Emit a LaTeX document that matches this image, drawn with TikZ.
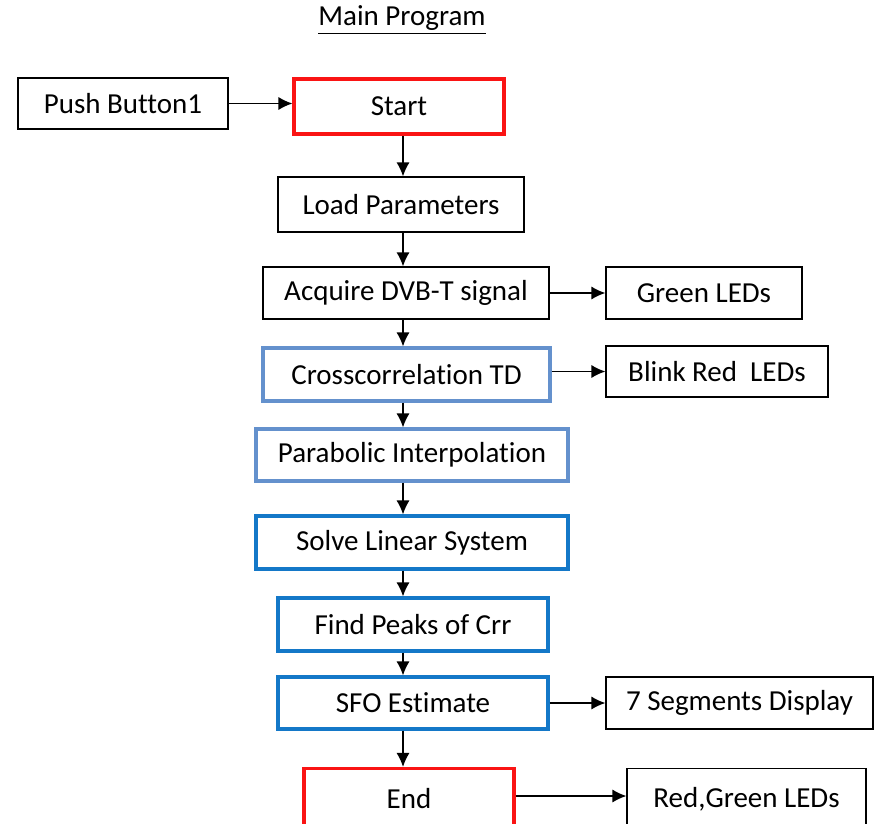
\documentclass[tikz,border=0pt]{standalone}
\usepackage{fontspec}
\setmainfont{Carlito}[Ligatures=NoCommon]
\usepackage{tikz}
\usetikzlibrary{arrows, arrows.meta, positioning}
\definecolor{startred}{RGB}{250,20,20}
\definecolor{paleblue}{RGB}{100,145,205}
\definecolor{deepblue}{RGB}{20,120,200}
\tikzstyle{plain} = [rectangle, draw=black, line width=0.7pt, font=\fontsize{16.5}{19}\selectfont]
\tikzstyle{terminal} = [rectangle, draw=startred, line width=1.8pt, font=\fontsize{16.5}{19}\selectfont]
\tikzstyle{softstep} = [rectangle, draw=paleblue, line width=1.8pt, font=\fontsize{16.5}{19}\selectfont]
\tikzstyle{hardstep} = [rectangle, draw=deepblue, line width=1.8pt, font=\fontsize{16.5}{19}\selectfont]
\tikzstyle{arrow} = [line width=0.8pt, -{Latex[length=8pt, width=7.5pt]}]

\begin{document}
\begin{tikzpicture}[x=0.02cm, y=0.02cm]
\clip (0, 0) rectangle (875, -824);
\useasboundingbox (0, 0) rectangle (875, -824);

\node (title) at (402, -20) {\fontsize{16.5}{19}\selectfont\underline{Main Program}};

% main column
\node (start) [terminal, minimum width = 4.2cm, minimum height = 1.1cm] at (399, -106.5) {Start};
\node (load) [plain, minimum width = 4.92cm, minimum height = 1.1cm] at (401, -204.5) {Load Parameters};
\node (acquire) [plain, minimum width = 5.72cm, minimum height = 1.04cm] at (406, -293) {Acquire DVB-T signal};
\node (cross) [softstep, minimum width = 5.74cm, minimum height = 1.06cm] at (406.5, -374.5) {Crosscorrelation TD};
\node (parab) [softstep, minimum width = 6.24cm, minimum height = 1.04cm] at (412, -455) {Parabolic Interpolation};
\node (solve) [hardstep, minimum width = 6.24cm, minimum height = 1.06cm] at (412, -542.5) {Solve Linear System};
\node (peaks) [hardstep, minimum width = 5.4cm, minimum height = 1.06cm] at (413, -624.5) {Find Peaks of Crr};
\node (sfo) [hardstep, minimum width = 5.4cm, minimum height = 1.04cm] at (413, -703) {SFO Estimate};
\node (end) [terminal, minimum width = 4.2cm, minimum height = 1.22cm] at (409, -799) {End};

% side boxes
\node (push) [plain, minimum width = 4.2cm, minimum height = 1.02cm] at (123, -103.5) {Push Button1};
\node (green) [plain, minimum width = 3.92cm, minimum height = 1.04cm] at (704, -293) {Green LEDs};
\node (blink) [plain, minimum width = 4.44cm, minimum height = 1.02cm] at (717, -371.5) {Blink Red~~LEDs};
\node (seven) [plain, minimum width = 5.34cm, minimum height = 1.04cm] at (739.5, -703) {7 Segments Display};
\node (redgreen) [plain, minimum width = 4.78cm, minimum height = 1.22cm] at (746.5, -799) {Red,Green LEDs};

\coordinate (col) at (403, 0);

\draw[arrow] (start.south -| col) -- (load.north -| col);
\draw[arrow] (load.south -| col) -- (acquire.north -| col);
\draw[arrow] (acquire.south -| col) -- (cross.north -| col);
\draw[arrow] (cross.south -| col) -- (parab.north -| col);
\draw[arrow] (parab.south -| col) -- (solve.north -| col);
\draw[arrow] (solve.south -| col) -- (peaks.north -| col);
\draw[arrow] (peaks.south -| col) -- (sfo.north -| col);
\draw[arrow] (sfo.south -| col) -- (end.north -| col);

\draw[arrow] (push.east) -- (push.east -| start.west);
\draw[arrow] (acquire.east) -- (green.west);
\draw[arrow] (cross.east |- blink.west) -- (blink.west);
\draw[arrow] (sfo.east) -- (seven.west);
\draw[arrow] (end.east |- 0, -796) -- (redgreen.west |- 0, -796);
\end{tikzpicture}
\end{document}
